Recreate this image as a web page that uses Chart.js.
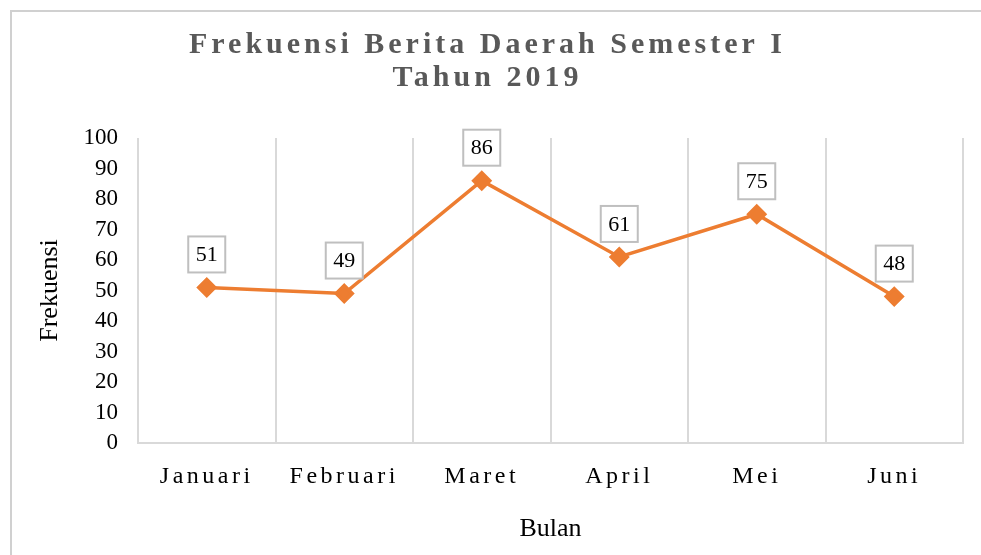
<!DOCTYPE html>
<html>
<head>
<meta charset="utf-8">
<script src="https://cdn.jsdelivr.net/npm/chart.js@4/dist/chart.umd.min.js"></script>
<style>
  body { margin: 0; background: #fff; overflow: hidden; }
  #wrap { position: absolute; left: 10px; top: 10px; border-left: 2px solid #d0d0d0; border-top: 2px solid #d0d0d0; }
  canvas { display: block; }
</style>
</head>
<body>
<div id="wrap"><canvas id="myChart" width="969" height="543"></canvas></div>
<script>
var bulan = ['Januari', 'Februari', 'Maret', 'April', 'Mei', 'Juni'];
var frekuensi = [51, 49, 86, 61, 75, 48];
var judul = ['Frekuensi Berita Daerah Semester I', 'Tahun 2019'];

var serif = '"Liberation Serif", "Times New Roman", serif';

// letter spaced text for the title and the month labels
const spacing = {
  id: 'spacing',
  beforeDraw(chart) {
    const ctx = chart.ctx;
    const xs = chart.scales.x;
    if (xs && !xs._spaced) {
      const orig = xs.drawLabels;
      xs.drawLabels = function (area) {
        ctx.save();
        ctx.letterSpacing = '3.5px';
        orig.call(this, area);
        ctx.restore();
      };
      xs._spaced = true;
    }
    const tb = chart.titleBlock;
    if (tb && !tb._spaced) {
      const origT = tb.draw;
      tb.draw = function (area) {
        ctx.save();
        ctx.letterSpacing = '4px';
        origT.call(this, area);
        ctx.restore();
      };
      tb._spaced = true;
    }
  }
};

// boxed value labels above each point
const boxLabels = {
  id: 'boxLabels',
  afterDatasetsDraw(chart) {
    const ctx = chart.ctx;
    const meta = chart.getDatasetMeta(0);
    ctx.save();
    ctx.font = '22px ' + serif;
    meta.data.forEach(function (pt, i) {
      const txt = String(chart.data.datasets[0].data[i]);
      const w = ctx.measureText(txt).width + 15;
      const h = 36;
      const cx = pt.x, cy = pt.y - 33;
      ctx.fillStyle = '#fff';
      ctx.fillRect(cx - w / 2, cy - h / 2, w, h);
      ctx.strokeStyle = '#bfbfbf';
      ctx.lineWidth = 2;
      ctx.strokeRect(cx - w / 2, cy - h / 2, w, h);
      ctx.fillStyle = '#000';
      ctx.textAlign = 'center';
      ctx.textBaseline = 'middle';
      ctx.fillText(txt, cx, cy + 1);
    });
    ctx.restore();
  }
};

var ctx = document.getElementById('myChart').getContext('2d');
var myChart = new Chart(ctx, {
  type: 'line',
  data: {
    labels: bulan,
    datasets: [{
      data: frekuensi,
      borderColor: '#ED7D31',
      backgroundColor: '#ED7D31',
      pointBackgroundColor: '#ED7D31',
      pointBorderColor: '#ED7D31',
      pointStyle: 'rectRot',
      pointRadius: 8,
      borderWidth: 3.5,
      tension: 0
    }]
  },
  options: {
    responsive: false,
    animation: false,
    layout: { padding: { left: 0, right: 18, top: 0, bottom: 0 } },
    plugins: {
      legend: { display: false },
      tooltip: { enabled: false },
      title: {
        display: true,
        text: judul,
        color: '#595959',
        font: { family: serif, size: 30, weight: 'bold', lineHeight: 1.1 },
        padding: { top: 17, bottom: 43 }
      }
    },
    scales: {
      x: {
        offset: true,
        grid: { offset: true, color: '#d9d9d9', lineWidth: 2, drawTicks: false },
        border: { color: '#d9d9d9', width: 2 },
        ticks: { color: '#000', padding: 19, autoSkip: false, maxRotation: 0, font: { family: serif, size: 24 } },
        title: {
          display: true,
          text: 'Bulan',
          color: '#000',
          font: { family: serif, size: 26 },
          padding: { top: 0, bottom: 10 }
        },
        afterFit: function (scale) { scale.height = 112; }
      },
      y: {
        min: 0,
        max: 100,
        grid: { display: false, drawTicks: false },
        border: { display: false },
        ticks: { stepSize: 10, autoSkip: false, color: '#000', padding: 20, font: { family: serif, size: 23 } },
        title: {
          display: true,
          text: 'Frekuensi',
          color: '#000',
          font: { family: serif, size: 26 },
          padding: { top: 23, bottom: 0 }
        },
        afterFit: function (scale) { scale.width = 126; }
      }
    }
  },
  plugins: [spacing, boxLabels]
});
</script>
</body>
</html>
